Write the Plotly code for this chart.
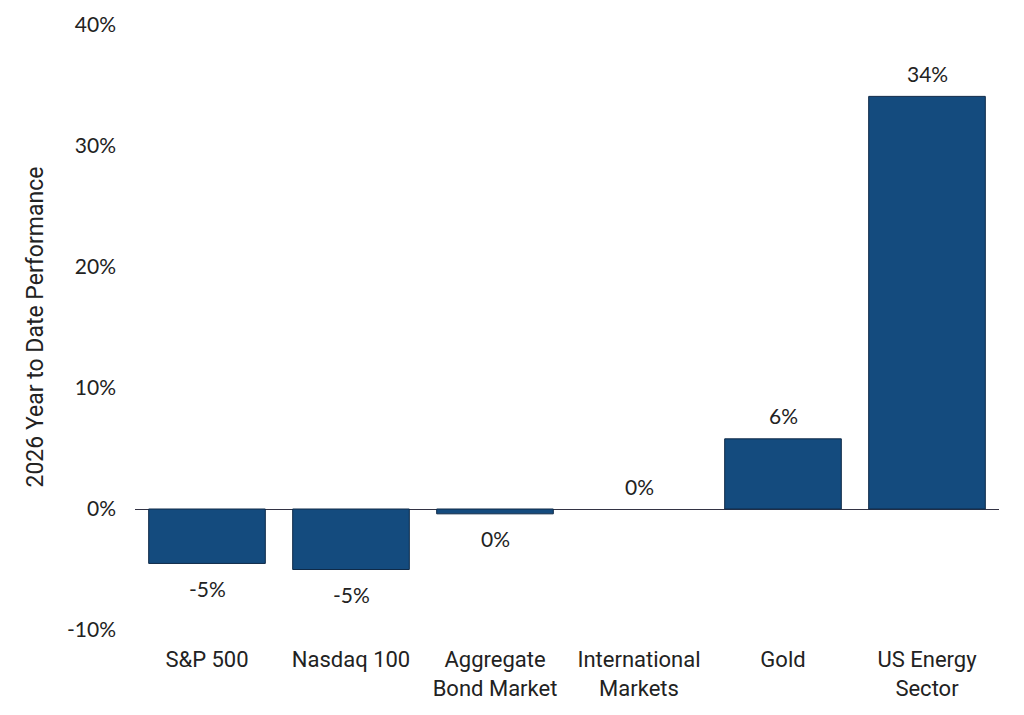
import plotly.graph_objects as go

categories = ["S&P 500", "Nasdaq 100", "Aggregate<br>Bond Market", "International<br>Markets", "Gold", "US Energy<br>Sector"]
values = [-4.5, -5.0, -0.4, 0.0, 5.8, 34.1]
labels = ["-5%", "-5%", "0%", "0%", "6%", "34%"]
tick_vals = [-10, 0, 10, 20, 30, 40]
tick_text = ["-10%", "0%", "10%", "20%", "30%", "40%"]
y_title = "2026 Year to Date Performance"

NUM_FONT = "Lato"
CAT_FONT = "Roboto"
TXT = "#222222"

fig = go.Figure()
fig.add_trace(go.Bar(
    x=categories,
    y=values,
    marker=dict(color="#144b7e",
                line=dict(color="#0f2a48", width=[0 if v == 0 else 1 for v in values])),
    hoverinfo="skip",
))

for c, v, t in zip(categories, values, labels):
    fig.add_annotation(
        x=c, y=v, xref="x", yref="y", text=t, showarrow=False,
        yanchor="middle", yshift=(23 if v >= 0 else -25),
        font=dict(family=NUM_FONT, size=21, color=TXT),
    )

fig.add_annotation(
    xref="paper", yref="paper", x=(35 - 135) / 864, y=0.5,
    text=y_title, textangle=-90, showarrow=False,
    xanchor="center", yanchor="middle",
    font=dict(family=CAT_FONT, size=23, color=TXT),
)

fig.update_layout(
    width=1024, height=715,
    margin=dict(l=127, r=33, t=17, b=93),
    paper_bgcolor="white", plot_bgcolor="white",
    bargap=0.19,
    showlegend=False,
    font=dict(family=NUM_FONT, size=21, color=TXT),
)
fig.update_xaxes(
    automargin=False,
    showgrid=False, showline=False, zeroline=False, ticks="",
    tickfont=dict(family=CAT_FONT, size=22, color=TXT),
    ticklabelstandoff=14,
)
fig.update_yaxes(
    automargin=False,
    range=[-10, 40],
    tickvals=tick_vals, ticktext=tick_text,
    showgrid=False, showline=False,
    zeroline=True, zerolinecolor="#333344", zerolinewidth=1.2,
    tickfont=dict(family=NUM_FONT, size=21, color=TXT),
    ticklabelstandoff=18,
)

fig.write_html("out.html")
